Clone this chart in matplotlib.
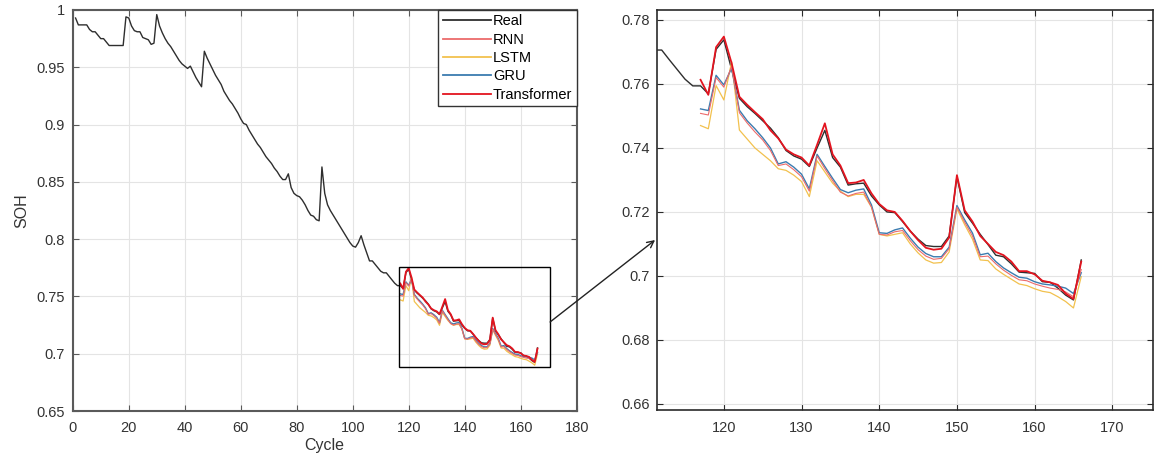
import matplotlib
matplotlib.use("Agg")
import matplotlib.pyplot as plt
from matplotlib.patches import Rectangle, ConnectionPatch
import numpy as np

plt.rcParams['font.family'] = ['Liberation Sans', 'DejaVu Sans']

# ---------------- data ----------------
cycles = list(range(1, 167))
real_soh = [
    0.993, 0.987, 0.987, 0.987, 0.987, 0.983, 0.981, 0.981, 0.978, 0.975,
    0.975, 0.972, 0.969, 0.969, 0.969, 0.969, 0.969, 0.969, 0.994, 0.993,
    0.986, 0.982, 0.981, 0.981, 0.976, 0.975, 0.974, 0.970, 0.971, 0.996,
    0.986, 0.980, 0.975, 0.971, 0.968, 0.964, 0.960, 0.956, 0.953, 0.951,
    0.949, 0.951, 0.946, 0.941, 0.937, 0.933, 0.964, 0.958, 0.953, 0.948,
    0.943, 0.939, 0.935, 0.929, 0.925, 0.921, 0.918, 0.914, 0.910, 0.905,
    0.901, 0.900, 0.895, 0.891, 0.887, 0.883, 0.880, 0.876, 0.872, 0.869,
    0.866, 0.862, 0.859, 0.855, 0.852, 0.852, 0.857, 0.845, 0.840, 0.838,
    0.837, 0.834, 0.830, 0.825, 0.821, 0.820, 0.817, 0.816, 0.863, 0.840,
    0.830, 0.825, 0.821, 0.817, 0.813, 0.809, 0.805, 0.801, 0.797, 0.794,
    0.793, 0.797, 0.803, 0.795, 0.788, 0.781, 0.781, 0.778, 0.775, 0.772,
    0.7706, 0.7706, 0.7675, 0.7645, 0.7615, 0.7594, 0.7594, 0.7569, 0.7708, 0.7738,
    0.7645, 0.7555, 0.7529, 0.7508, 0.7485, 0.7462, 0.7432, 0.7392, 0.7375, 0.7365,
    0.7342, 0.7400, 0.7455, 0.7370, 0.7340, 0.7284, 0.7288, 0.7290, 0.7250, 0.7222,
    0.7200, 0.7198, 0.7170, 0.7140, 0.7115, 0.7095, 0.7092, 0.7092, 0.7125, 0.7310,
    0.7198, 0.7165, 0.7130, 0.7098, 0.7065, 0.7060, 0.7038, 0.7012, 0.7010, 0.7008,
    0.6982, 0.6980, 0.6962, 0.6940, 0.6925, 0.7050,
]

pred_cycles = list(range(117, 167))
rnn_soh = [
    0.7508, 0.7503, 0.7620, 0.7590, 0.7655, 0.7510, 0.7478, 0.7450, 0.7425, 0.7392,
    0.7345, 0.7350, 0.7332, 0.7310, 0.7265, 0.7375, 0.7335, 0.7298, 0.7262, 0.7250,
    0.7258, 0.7262, 0.7215, 0.7130, 0.7128, 0.7138, 0.7142, 0.7110, 0.7082, 0.7062,
    0.7052, 0.7055, 0.7085, 0.7215, 0.7168, 0.7125, 0.7060, 0.7062, 0.7038, 0.7018,
    0.7002, 0.6988, 0.6985, 0.6975, 0.6968, 0.6962, 0.6958, 0.6950, 0.6935, 0.7020,
]
lstm_soh = [
    0.7470, 0.7460, 0.7595, 0.7550, 0.7670, 0.7456, 0.7428, 0.7400, 0.7380, 0.7360,
    0.7335, 0.7330, 0.7315, 0.7295, 0.7248, 0.7360, 0.7325, 0.7290, 0.7265, 0.7248,
    0.7255, 0.7255, 0.7215, 0.7130, 0.7125, 0.7130, 0.7135, 0.7100, 0.7072, 0.7050,
    0.7040, 0.7042, 0.7075, 0.7210, 0.7160, 0.7115, 0.7050, 0.7048, 0.7022, 0.7005,
    0.6990, 0.6975, 0.6970, 0.6960, 0.6952, 0.6948, 0.6935, 0.6920, 0.6900, 0.6998,
]
gru_soh = [
    0.7522, 0.7517, 0.7627, 0.7597, 0.7650, 0.7518, 0.7485, 0.7460, 0.7432, 0.7400,
    0.7350, 0.7357, 0.7340, 0.7318, 0.7272, 0.7380, 0.7342, 0.7305, 0.7270, 0.7260,
    0.7268, 0.7272, 0.7222, 0.7135, 0.7133, 0.7144, 0.7150, 0.7118, 0.7090, 0.7070,
    0.7060, 0.7060, 0.7090, 0.7220, 0.7175, 0.7134, 0.7066, 0.7071, 0.7045, 0.7025,
    0.7010, 0.6996, 0.6993, 0.6982, 0.6975, 0.6972, 0.6968, 0.6962, 0.6945, 0.7010,
]
transformer_soh = [
    0.7613, 0.7566, 0.7715, 0.7748, 0.7665, 0.7560, 0.7535, 0.7512, 0.7490, 0.7455,
    0.7430, 0.7395, 0.7380, 0.7370, 0.7345, 0.7410, 0.7477, 0.7380, 0.7345, 0.7290,
    0.7292, 0.7300, 0.7258, 0.7225, 0.7205, 0.7200, 0.7172, 0.7140, 0.7112, 0.7088,
    0.7082, 0.7085, 0.7120, 0.7315, 0.7205, 0.7170, 0.7125, 0.7100, 0.7075, 0.7065,
    0.7045, 0.7015, 0.7015, 0.7005, 0.6985, 0.6980, 0.6972, 0.6945, 0.6928, 0.7045,
]

labels = ['Real', 'RNN', 'LSTM', 'GRU', 'Transformer']
left_xticks = [0, 20, 40, 60, 80, 100, 120, 140, 160, 180]
left_yticks = [0.65, 0.7, 0.75, 0.8, 0.85, 0.9, 0.95, 1.0]
left_yticklabels = ['0.65', '0.7', '0.75', '0.8', '0.85', '0.9', '0.95', '1']
right_xticks = [120, 130, 140, 150, 160, 170]
right_yticks = [0.66, 0.68, 0.70, 0.72, 0.74, 0.76, 0.78]
right_yticklabels = ['0.66', '0.68', '0.7', '0.72', '0.74', '0.76', '0.78']

# ---------------- style ----------------
c_real = '#2e2e2e'
c_rnn = '#ec6b6b'
c_lstm = '#f2c14e'
c_gru = '#3b7cb0'
c_tr = '#e3141f'
tick_c = '#333333'

fig = plt.figure(figsize=(11.66, 4.67), dpi=100)
ax1 = fig.add_axes([0.0624, 0.1199, 0.4322, 0.8587])
ax2 = fig.add_axes([0.5635, 0.1220, 0.4251, 0.8565])


def draw(ax):
    ax.plot(cycles, real_soh, color=c_real, lw=1.0, label=labels[0], zorder=3)
    ax.plot(pred_cycles, rnn_soh, color=c_rnn, lw=0.8, label=labels[1], zorder=4)
    ax.plot(pred_cycles, lstm_soh, color=c_lstm, lw=0.9, label=labels[2], zorder=3)
    ax.plot(pred_cycles, gru_soh, color=c_gru, lw=1.0, label=labels[3], zorder=3)
    ax.plot(pred_cycles, transformer_soh, color=c_tr, lw=1.3, label=labels[4], zorder=4)


def style(ax, spine_c, spine_w, xpad, ypad):
    ax.grid(True, color='#e4e4e4', lw=0.8)
    ax.set_axisbelow(True)
    for s in ax.spines.values():
        s.set_color(spine_c)
        s.set_linewidth(spine_w)
    ax.tick_params(direction='in', length=4, width=0.8, colors=spine_c,
                   labelcolor=tick_c, labelsize=10.5, top=True, right=True)
    ax.tick_params(axis='x', pad=xpad)
    ax.tick_params(axis='y', pad=ypad)


draw(ax1)
style(ax1, '#5a5a5a', 1.5, 7.5, 5.5)
ax1.set_xlim(0, 180)
ax1.set_ylim(0.65, 1.0)
ax1.set_xticks(left_xticks)
ax1.set_yticks(left_yticks)
ax1.set_yticklabels(left_yticklabels)
ax1.set_xlabel('Cycle', fontsize=11.5, color=tick_c, labelpad=2)
ax1.set_ylabel('SOH', fontsize=11.5, color=tick_c, labelpad=5)

leg = ax1.legend(loc='upper right', borderaxespad=0, fontsize=10.5,
                 handlelength=3.3, handletextpad=0.15, labelspacing=0.3,
                 borderpad=0.3, fancybox=False, framealpha=1,
                 edgecolor='#333333')
leg.get_frame().set_linewidth(1.0)
for line in leg.get_lines():
    line.set_linewidth(1.3)

# zoom rectangle
ax1.add_patch(Rectangle((116.5, 0.688), 54.0, 0.088, fill=False,
                        edgecolor='black', lw=1.0, zorder=6))

draw(ax2)
style(ax2, '#2a2a2a', 1.2, 8, 5)
ax2.set_xlim(111.4, 175.2)
ax2.set_ylim(0.6581, 0.7831)
ax2.set_xticks(right_xticks)
ax2.set_yticks(right_yticks)
ax2.set_yticklabels(right_yticklabels)

con = ConnectionPatch(xyA=(170.5, 0.7277), coordsA=ax1.transData,
                      xyB=(-0.004, 0.425), coordsB=ax2.transAxes,
                      arrowstyle='->', mutation_scale=12, color='#222222',
                      lw=1.0)
fig.add_artist(con)

fig.savefig('out.png', dpi=100)
